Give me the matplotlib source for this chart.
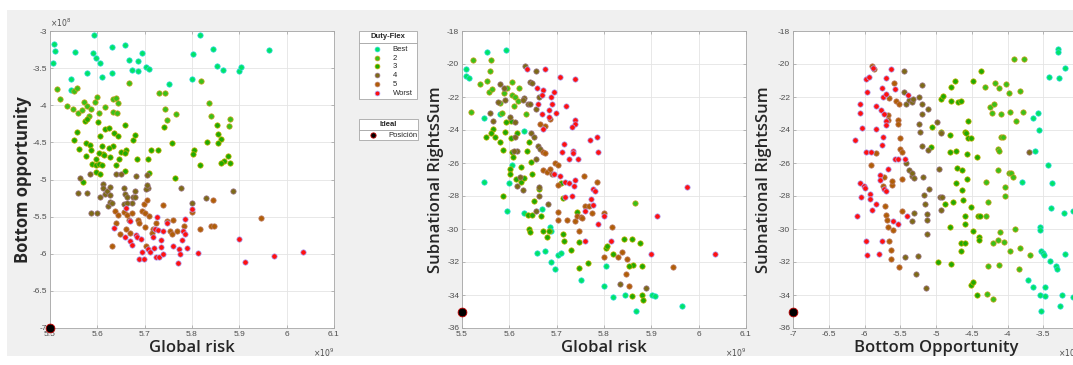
import matplotlib
matplotlib.use("Agg")
import matplotlib.pyplot as plt
from matplotlib.patches import Rectangle

plt.rcParams['font.family'] = ['Liberation Sans', 'DejaVu Sans']
plt.rcParams['axes.unicode_minus'] = False

# ---- data (Global risk in 1e9, Bottom opportunity in 1e8) ----
categories = ["Best", "2", "3", "4", "5", "Worst"]

p1_best = [(5.507, -3.43), (5.508, -3.18), (5.511, -3.27), (5.544, -3.64), (5.545, -3.80), (5.552, -3.28),
           (5.579, -3.57), (5.594, -3.05), (5.591, -3.29), (5.598, -3.37), (5.605, -3.43), (5.609, -3.62),
           (5.631, -3.21), (5.631, -3.56), (5.658, -3.19), (5.666, -3.39), (5.674, -3.53), (5.686, -3.40),
           (5.685, -3.54), (5.695, -3.30), (5.702, -3.49), (5.709, -3.51), (5.751, -3.71), (5.802, -3.31),
           (5.799, -3.65), (5.817, -3.06), (5.845, -3.24), (5.852, -3.47), (5.865, -3.53), (5.900, -3.54),
           (5.904, -3.48), (5.963, -3.26)]
p1_c2 = [(5.515, -3.78), (5.521, -3.91), (5.535, -4.01), (5.549, -4.05), (5.550, -3.81), (5.558, -3.77),
         (5.560, -4.10), (5.567, -4.07), (5.572, -3.96), (5.579, -4.01), (5.586, -4.05), (5.583, -4.14),
         (5.596, -3.95), (5.599, -3.89), (5.603, -4.11), (5.616, -4.03), (5.633, -3.92), (5.634, -4.09),
         (5.640, -3.90), (5.644, -3.97), (5.642, -4.10), (5.667, -3.70), (5.731, -3.83), (5.744, -3.84),
         (5.744, -4.05), (5.767, -4.12), (5.819, -3.68), (5.836, -3.97), (5.841, -4.14), (5.880, -4.19),
         (5.879, -4.28), (5.747, -4.20)]
p1_c3 = [(5.556, -4.36), (5.551, -4.47), (5.562, -4.59), (5.573, -4.21), (5.579, -4.18), (5.575, -4.69),
         (5.576, -4.51), (5.584, -4.54), (5.586, -4.60), (5.588, -4.79), (5.570, -5.03), (5.602, -4.23),
         (5.605, -4.41), (5.609, -4.55), (5.598, -4.72), (5.597, -4.80), (5.604, -4.79), (5.598, -4.90),
         (5.605, -4.92), (5.610, -4.80), (5.611, -4.65), (5.603, -4.64), (5.614, -4.67), (5.616, -4.32),
         (5.624, -4.30), (5.636, -4.38), (5.643, -4.42), (5.634, -4.55), (5.624, -4.57), (5.626, -4.70),
         (5.640, -4.81), (5.645, -4.73), (5.651, -4.63), (5.659, -4.27), (5.660, -4.60), (5.658, -4.64),
         (5.658, -4.89), (5.675, -4.47), (5.679, -4.40), (5.684, -4.72), (5.707, -4.72), (5.710, -4.91),
         (5.714, -4.60), (5.729, -4.60), (5.740, -4.29), (5.758, -4.51), (5.765, -4.98), (5.852, -4.26),
         (5.855, -4.39), (5.861, -4.45), (5.832, -4.49), (5.854, -4.51), (5.875, -4.68), (5.867, -4.75),
         (5.862, -4.78), (5.880, -4.78), (5.804, -4.60), (5.802, -4.66), (5.817, -4.81)]
p1_c4 = [(5.563, -4.98), (5.559, -5.18), (5.579, -5.18), (5.586, -5.45), (5.600, -5.45), (5.585, -4.93),
         (5.611, -5.06), (5.611, -5.12), (5.605, -5.23), (5.616, -5.20), (5.620, -5.16), (5.627, -5.10),
         (5.626, -5.21), (5.623, -5.36), (5.627, -5.30), (5.631, -5.32), (5.640, -4.92), (5.651, -4.92),
         (5.656, -5.12), (5.659, -5.19), (5.662, -5.23), (5.673, -5.32), (5.675, -5.24), (5.679, -5.15),
         (5.680, -5.24), (5.682, -4.95), (5.707, -5.12), (5.704, -4.94), (5.702, -5.13), (5.704, -5.08),
         (5.776, -5.12), (5.799, -5.31), (5.829, -5.25), (5.887, -5.15), (5.656, -5.33), (5.662, -5.32)]
p1_c5 = [(5.637, -5.42), (5.640, -5.58), (5.644, -5.48), (5.647, -5.73), (5.631, -5.90), (5.657, -5.44),
         (5.662, -5.48), (5.666, -5.54), (5.660, -5.66), (5.669, -5.72), (5.674, -5.45), (5.686, -5.55),
         (5.688, -5.59), (5.695, -5.42), (5.699, -5.33), (5.705, -5.28), (5.701, -5.45), (5.701, -5.64),
         (5.709, -5.49), (5.702, -5.90), (5.718, -5.66), (5.715, -5.72), (5.724, -5.59), (5.738, -5.34),
         (5.748, -5.56), (5.753, -5.70), (5.760, -5.54), (5.757, -5.74), (5.768, -5.69), (5.783, -5.62),
         (5.800, -5.44), (5.817, -5.66), (5.845, -5.28), (5.840, -5.63), (5.846, -5.63), (5.946, -5.52)]
p1_worst = [(5.636, -5.65), (5.661, -5.39), (5.659, -5.77), (5.670, -5.56), (5.670, -5.83), (5.673, -5.88),
            (5.682, -5.75), (5.684, -5.78), (5.693, -5.80), (5.694, -5.97), (5.688, -6.07), (5.698, -6.07),
            (5.706, -5.94), (5.711, -5.97), (5.718, -5.77), (5.719, -5.92), (5.721, -5.67), (5.724, -6.05),
            (5.727, -5.50), (5.728, -5.68), (5.734, -5.91), (5.731, -6.05), (5.738, -6.00), (5.735, -5.82),
            (5.738, -5.69), (5.748, -5.59), (5.760, -5.89), (5.773, -5.94), (5.774, -6.00), (5.771, -6.13),
            (5.778, -5.82), (5.781, -5.70), (5.786, -5.74), (5.785, -5.53), (5.789, -5.92), (5.800, -5.40),
            (5.813, -5.99), (5.899, -5.80), (5.911, -6.11), (5.974, -6.03), (6.035, -5.97)]

# Global risk (1e9) vs Subnational RightsSum
p2_best = [(5.509, -20.28), (5.508, -20.74), (5.515, -20.86), (5.553, -19.27), (5.592, -19.13), (5.546, -23.26),
           (5.546, -27.13), (5.581, -23.00), (5.632, -24.07), (5.606, -26.13), (5.599, -27.19), (5.595, -28.91),
           (5.632, -29.05), (5.668, -28.79), (5.658, -31.47), (5.676, -31.35), (5.686, -29.85), (5.687, -30.10),
           (5.687, -31.97), (5.696, -32.40), (5.703, -31.57), (5.710, -31.43), (5.752, -33.12), (5.800, -33.44),
           (5.804, -32.27), (5.818, -34.11), (5.845, -33.97), (5.867, -34.98), (5.901, -33.97), (5.908, -34.05),
           (5.965, -34.68)]
p2_c2 = [(5.523, -19.73), (5.561, -19.73), (5.559, -20.44), (5.538, -21.21), (5.553, -21.06), (5.556, -21.71),
         (5.563, -21.49), (5.518, -22.92), (5.580, -22.35), (5.584, -22.96), (5.588, -21.73), (5.595, -21.45),
         (5.606, -21.08), (5.605, -21.89), (5.612, -22.03), (5.620, -21.43), (5.619, -22.23), (5.609, -22.56),
         (5.636, -23.04), (5.866, -28.40)]
p2_c3 = [(5.604, -23.48), (5.592, -23.52), (5.591, -24.15), (5.565, -23.91), (5.551, -24.45), (5.561, -24.21),
         (5.570, -24.43), (5.581, -24.71), (5.587, -25.22), (5.604, -24.51), (5.616, -24.17), (5.606, -25.32),
         (5.607, -25.62), (5.602, -26.39), (5.601, -26.67), (5.615, -26.97), (5.625, -27.13), (5.632, -26.93),
         (5.624, -26.27), (5.638, -25.26), (5.645, -25.92), (5.642, -24.71), (5.647, -26.67), (5.587, -28.00),
         (5.640, -29.17), (5.648, -29.15), (5.641, -30.02), (5.644, -30.20), (5.652, -28.28), (5.662, -27.60),
         (5.666, -29.21), (5.672, -30.10), (5.679, -30.50), (5.684, -30.12), (5.710, -27.19), (5.713, -28.14),
         (5.714, -30.30), (5.715, -30.70), (5.730, -31.25), (5.742, -28.97), (5.747, -32.38), (5.748, -30.76),
         (5.767, -32.07), (5.804, -31.17), (5.806, -31.02), (5.818, -31.53), (5.842, -30.62), (5.859, -30.62),
         (5.876, -30.82), (5.862, -32.17), (5.853, -32.27), (5.880, -32.27), (5.880, -34.00), (5.882, -34.30),
         (5.860, -34.05)]
p2_c4 = [(5.633, -20.12), (5.657, -20.42), (5.643, -21.08), (5.648, -21.15), (5.632, -22.09), (5.628, -22.19),
         (5.639, -22.40), (5.644, -22.44), (5.657, -22.70), (5.662, -21.99), (5.565, -23.46), (5.560, -22.96),
         (5.576, -22.29), (5.580, -21.19), (5.588, -21.45), (5.591, -22.21), (5.602, -23.20), (5.612, -23.52),
         (5.612, -24.41), (5.616, -25.26), (5.609, -25.26), (5.623, -26.83), (5.629, -27.64), (5.617, -27.38),
         (5.645, -24.21), (5.652, -24.45), (5.657, -25.78), (5.660, -24.98), (5.665, -25.14), (5.663, -27.44),
         (5.663, -28.00), (5.656, -28.89), (5.681, -28.46), (5.888, -33.60), (5.834, -33.32)]
p2_c5 = [(5.665, -23.65), (5.676, -23.73), (5.686, -23.36), (5.671, -25.32), (5.675, -25.38), (5.672, -26.43),
         (5.679, -26.53), (5.685, -26.39), (5.690, -26.65), (5.696, -25.98), (5.703, -26.13), (5.703, -27.33),
         (5.702, -28.97), (5.703, -29.45), (5.721, -29.45), (5.739, -29.49), (5.742, -29.19), (5.751, -29.25),
         (5.754, -29.33), (5.748, -30.10), (5.759, -28.58), (5.768, -28.58), (5.758, -26.77), (5.785, -27.13),
         (5.774, -29.05), (5.800, -29.01), (5.800, -31.69), (5.817, -29.85), (5.829, -31.67), (5.838, -31.41),
         (5.849, -31.83), (5.846, -32.74), (5.853, -33.44), (5.946, -32.33)]
p2_worst = [(5.638, -20.28), (5.675, -20.28), (5.659, -21.43), (5.672, -21.59), (5.670, -21.85), (5.661, -22.44),
            (5.689, -21.99), (5.695, -21.69), (5.690, -22.40), (5.683, -22.76), (5.683, -23.20), (5.668, -23.06),
            (5.672, -23.91), (5.699, -22.98), (5.707, -20.78), (5.739, -20.92), (5.720, -22.56), (5.738, -23.40),
            (5.739, -23.63), (5.733, -23.83), (5.716, -24.83), (5.711, -25.36), (5.734, -25.28), (5.734, -25.42),
            (5.725, -25.74), (5.746, -25.78), (5.770, -24.63), (5.786, -24.41), (5.788, -25.34), (5.694, -26.65),
            (5.708, -26.79), (5.718, -27.15), (5.725, -27.19), (5.738, -27.01), (5.737, -27.40), (5.733, -28.00),
            (5.717, -28.06), (5.773, -28.20), (5.777, -27.58), (5.781, -27.70), (5.777, -28.54), (5.760, -28.93),
            (5.788, -29.69), (5.800, -29.19), (5.760, -30.74), (5.815, -30.70), (5.912, -29.19), (5.976, -27.47),
            (5.899, -31.54), (6.035, -31.54)]

# Bottom opportunity (1e8) vs Subnational RightsSum
p3_best = [(-3.290, -19.11), (-3.290, -19.27), (-3.192, -20.26), (-3.426, -20.76), (-3.276, -20.83),
           (-3.640, -23.28), (-3.575, -22.99), (-3.556, -24.03), (-3.622, -25.25), (-3.435, -26.10),
           (-3.379, -27.19), (-3.804, -27.13), (-3.398, -28.74), (-3.212, -29.03), (-3.080, -28.90),
           (-3.542, -29.87), (-3.542, -30.07), (-3.533, -31.32), (-3.510, -31.44), (-3.496, -31.58),
           (-3.402, -31.96), (-3.323, -32.23), (-3.310, -32.41), (-3.202, -31.50), (-3.710, -33.10),
           (-3.645, -33.50), (-3.477, -33.50), (-3.547, -33.98), (-3.480, -34.06), (-3.240, -33.98),
           (-3.080, -34.10), (-3.537, -34.98), (-3.268, -34.69)]
p3_c2 = [(-3.912, -19.69), (-3.772, -19.69), (-4.317, -21.42), (-4.177, -21.13), (-4.116, -21.47), (-4.014, -21.20),
         (-3.986, -21.75), (-3.822, -21.65), (-4.238, -22.59), (-4.182, -22.43), (-4.214, -22.99), (-4.088, -23.05),
         (-3.962, -22.91), (-3.888, -23.46), (-3.790, -22.91), (-4.088, -24.44), (-4.061, -24.44), (-4.135, -25.15),
         (-4.117, -25.25), (-4.128, -26.45), (-3.976, -26.63), (-3.948, -26.61), (-3.925, -26.87), (-4.298, -27.13),
         (-4.028, -27.47), (-4.037, -27.97), (-4.275, -28.34), (-3.893, -30.03), (-4.107, -30.19), (-4.135, -30.64),
         (-4.200, -30.82), (-4.051, -30.80), (-3.967, -31.32), (-3.832, -31.17), (-3.682, -31.56), (-4.266, -32.27),
         (-4.117, -32.21), (-3.842, -32.41), (-4.284, -33.96), (-4.200, -34.26), (-4.300, -29.20)]
p3_c3 = [(-5.049, -23.81), (-5.068, -25.02), (-4.937, -22.15), (-4.900, -21.95), (-4.975, -32.03), (-4.937, -24.11),
         (-4.881, -28.48), (-4.807, -25.32), (-4.802, -24.29), (-4.807, -29.85), (-4.788, -21.39), (-4.788, -22.23),
         (-4.788, -32.13), (-4.760, -28.38), (-4.732, -21.02), (-4.722, -25.26), (-4.722, -27.23), (-4.704, -26.29),
         (-4.694, -22.33), (-4.657, -22.23), (-4.657, -30.82), (-4.648, -31.33), (-4.639, -26.43), (-4.639, -27.66),
         (-4.620, -28.24), (-4.601, -24.11), (-4.601, -29.21), (-4.592, -29.69), (-4.592, -30.87), (-4.583, -24.17),
         (-4.564, -25.44), (-4.555, -23.46), (-4.564, -26.97), (-4.555, -24.51), (-4.517, -24.51), (-4.517, -28.64),
         (-4.508, -33.42), (-4.489, -33.24), (-4.480, -30.10), (-4.480, -21.04), (-4.433, -33.99), (-4.424, -25.64),
         (-4.415, -29.21), (-4.396, -30.46), (-4.396, -30.66), (-4.387, -29.21), (-4.368, -20.42)]
p3_c4 = [(-5.451, -21.71), (-5.423, -22.40), (-5.423, -26.03), (-5.432, -31.69), (-5.441, -20.42), (-5.376, -26.43),
         (-5.376, -22.17), (-5.339, -22.31), (-5.339, -26.79), (-5.329, -26.61), (-5.315, -22.11), (-5.311, -29.05),
         (-5.311, -26.89), (-5.329, -29.49), (-5.283, -32.74), (-5.250, -31.63), (-5.236, -21.99), (-5.236, -23.65),
         (-5.217, -24.13), (-5.190, -24.98), (-5.180, -26.85), (-5.190, -22.42), (-5.190, -23.00), (-5.190, -21.25),
         (-5.161, -27.94), (-5.152, -28.46), (-5.124, -29.07), (-5.124, -29.45), (-5.124, -30.32), (-5.142, -33.58),
         (-5.115, -22.70), (-5.105, -25.22), (-5.096, -27.60), (-4.984, -23.50), (-4.956, -26.39), (-4.947, -28.08),
         (-4.914, -28.08), (-4.937, -28.87), (-4.937, -24.21), (-3.701, -25.34)]
p3_c5 = [(-5.899, -20.14), (-5.871, -20.28), (-5.908, -26.11), (-5.834, -25.38), (-5.721, -26.83), (-5.741, -27.42),
         (-5.712, -28.58), (-5.698, -29.13), (-5.684, -29.45), (-5.675, -29.85), (-5.665, -23.10), (-5.665, -23.40),
         (-5.656, -22.07), (-5.656, -30.70), (-5.628, -31.27), (-5.628, -31.83), (-5.600, -30.06), (-5.619, -27.34),
         (-5.609, -27.11), (-5.591, -21.15), (-5.553, -22.23), (-5.535, -23.40), (-5.525, -23.61), (-5.516, -22.40),
         (-5.507, -24.47), (-5.497, -25.18), (-5.479, -26.95), (-5.469, -25.32), (-5.516, -32.31), (-5.479, -28.93)]
p3_worst = [(-6.132, -24.61), (-6.104, -29.19), (-6.067, -22.42), (-6.057, -22.98), (-6.057, -27.19), (-6.048, -28.04),
            (-6.039, -23.85), (-6.001, -27.42), (-5.987, -27.54), (-5.983, -30.74), (-5.964, -31.55), (-5.964, -21.69),
            (-5.983, -20.92), (-5.931, -20.76), (-5.973, -25.32), (-5.913, -25.32), (-5.917, -27.88), (-5.917, -28.20),
            (-5.899, -28.87), (-5.880, -20.26), (-5.843, -22.56), (-5.843, -23.93), (-5.843, -28.48), (-5.801, -31.53),
            (-5.777, -26.73), (-5.777, -27.01), (-5.768, -22.76), (-5.759, -24.88), (-5.749, -30.74), (-5.736, -24.41),
            (-5.749, -21.45), (-5.736, -22.01), (-5.731, -23.00), (-5.731, -27.60), (-5.693, -27.70), (-5.693, -23.44),
            (-5.693, -23.67), (-5.693, -21.83), (-5.693, -20.87), (-5.675, -26.37), (-5.628, -20.28), (-5.605, -29.49),
            (-5.572, -25.78), (-5.572, -21.51), (-5.535, -29.69), (-5.525, -25.76), (-5.432, -25.78), (-5.385, -21.89),
            (-5.404, -29.21)]

ideal_p1 = (5.5, -7.0)
ideal_p2 = (5.5, -35.0)
ideal_p3 = (-7.0, -35.0)

face = {"Best": "#00e468", "2": "#3cc018", "3": "#22aa00", "4": "#7d6a18", "5": "#b05e08", "Worst": "#ff1010"}
edge = {"Best": "#30d8e0", "2": "#d0a020", "3": "#c8b000", "4": "#a07890", "5": "#c08070", "Worst": "#a8a8ff"}

W, H = 1073, 365
fig = plt.figure(figsize=(W / 100, H / 100), dpi=100)
fig.patch.set_facecolor("white")


def fx(px):
    return px / W


def fy(py):
    return 1 - py / H


# grey window background
bg = Rectangle((fx(7), fy(356)), fx(1073) - fx(7), fy(10) - fy(356), transform=fig.transFigure,
               facecolor="#f0f0f0", edgecolor="none", zorder=-5)
fig.patches.append(bg)

ax_b, ax_h = fy(328), fy(31) - fy(328)
ax1 = fig.add_axes([fx(50), ax_b, fx(334) - fx(50), ax_h])
ax2 = fig.add_axes([fx(462), ax_b, fx(746) - fx(462), ax_h])
ax3 = fig.add_axes([fx(793), ax_b, fx(1079) - fx(793), ax_h])

panels = [
    (ax1, [p1_best, p1_c2, p1_c3, p1_c4, p1_c5, p1_worst], ideal_p1,
     (5.5, 6.1), [5.5, 5.6, 5.7, 5.8, 5.9, 6.0, 6.1], (-7, -3), [-7, -6.5, -6, -5.5, -5, -4.5, -4, -3.5, -3],
     "Global risk", "Bottom opportunity"),
    (ax2, [p2_best, p2_c2, p2_c3, p2_c4, p2_c5, p2_worst], ideal_p2,
     (5.5, 6.1), [5.5, 5.6, 5.7, 5.8, 5.9, 6.0, 6.1], (-36, -18), list(range(-36, -17, 2)),
     "Global risk", "Subnational RightsSum"),
    (ax3, [p3_best, p3_c2, p3_c3, p3_c4, p3_c5, p3_worst], ideal_p3,
     (-7, -3), [-7, -6.5, -6, -5.5, -5, -4.5, -4, -3.5, -3], (-36, -18), list(range(-36, -17, 2)),
     "Bottom Opportunity", "Subnational RightsSum"),
]

handles = []
ideal_handle = None
for ax, groups, ideal, xl, xt, yl, yt, xlab, ylab in panels:
    ax.set_facecolor("white")
    for cat, pts in zip(categories, groups):
        xs = [p[0] for p in pts]
        ys = [p[1] for p in pts]
        h = ax.scatter(xs, ys, s=15, c=face[cat], edgecolors=edge[cat], linewidths=0.5, zorder=3, label=cat)
        if ax is ax1:
            handles.append(h)
    ih = ax.scatter([ideal[0]], [ideal[1]], s=40, c="black", edgecolors="#c00000", linewidths=0.6,
                    zorder=5, clip_on=False, label="Posición")
    if ax is ax1:
        ideal_handle = ih
    ax.set_xlim(*xl)
    ax.set_ylim(*yl)
    ax.set_xticks(xt)
    ax.set_yticks(yt)
    ax.set_xticklabels(["%g" % v for v in xt])
    ax.set_yticklabels(["%g" % v for v in yt])
    ax.grid(True, color="#e4e4e4", linewidth=0.6, zorder=0)
    ax.set_axisbelow(True)
    ax.tick_params(direction="in", top=True, right=True, length=2.5, width=0.5, colors="#a0a0a0",
                   labelcolor="#4d4d4d", labelsize=6, pad=2)
    for sp in ax.spines.values():
        sp.set_color("#a6a6a6")
        sp.set_linewidth(0.6)
    ax.set_xlabel(xlab, fontsize=12, fontweight="semibold", color="#262626", family=["Open Sans", "DejaVu Sans"])
    ax.set_ylabel(ylab, fontsize=12, fontweight="bold" if ax is ax1 else "semibold", color="#262626",
                  family=["Open Sans", "DejaVu Sans"])
    ax.xaxis.set_label_coords(0.5, -0.04)

ax1.yaxis.set_label_coords(-0.065, 0.5)
ax2.yaxis.set_label_coords(-0.062, 0.5)
ax3.yaxis.set_label_coords(-0.075, 0.5)

# exponent labels
ax1.text(0.0, 1.008, r"$\times10^{8}$", transform=ax1.transAxes, fontsize=5.5, color="#4d4d4d",
         ha="left", va="bottom")
for ax, txt in [(ax1, r"$\times10^{9}$"), (ax2, r"$\times10^{9}$"), (ax3, r"$\times10^{8}$")]:
    ax.text(1.0, -0.062, txt, transform=ax.transAxes, fontsize=5.5, color="#4d4d4d", ha="right", va="top")


# legends (title cell + entries cell, like MATLAB legend titles)
def title_cell(x0, x1, y0, y1, text):
    r = Rectangle((fx(x0), fy(y1)), fx(x1) - fx(x0), fy(y0) - fy(y1), transform=fig.transFigure,
                  facecolor="white", edgecolor="#a6a6a6", linewidth=0.6, zorder=6)
    fig.patches.append(r)
    fig.text((fx(x0) + fx(x1)) / 2, (fy(y0) + fy(y1)) / 2, text, ha="center", va="center",
             fontsize=5.5, fontweight="bold", color="#262626", zorder=7)


title_cell(359, 417, 31, 43, "Duty-Flex")
leg1 = fig.legend(handles=handles, labels=categories, loc="upper left",
                  bbox_to_anchor=(fx(359), fy(43), fx(417) - fx(359), 0), mode="expand", borderaxespad=0,
                  fontsize=5.5, frameon=True, fancybox=False, edgecolor="#a6a6a6", framealpha=1,
                  handlelength=4.2, handletextpad=-0.1, labelspacing=0.2, borderpad=0.3, scatterpoints=1,
                  markerscale=0.9)
leg1.get_frame().set_linewidth(0.6)
for t in leg1.get_texts():
    t.set_color("#262626")

title_cell(359, 418, 119, 130, "Ideal")
leg2 = fig.legend(handles=[ideal_handle], labels=["Posición"], loc="upper left",
                  bbox_to_anchor=(fx(359), fy(130), fx(418) - fx(359), 0), mode="expand", borderaxespad=0,
                  fontsize=5.5, frameon=True, fancybox=False, edgecolor="#a6a6a6", framealpha=1,
                  handlelength=3.3, handletextpad=0.3, borderpad=0.2, scatterpoints=1, markerscale=0.6)
leg2.get_frame().set_linewidth(0.6)
for t in leg2.get_texts():
    t.set_color("#262626")

fig.savefig("out.png", dpi=100)
